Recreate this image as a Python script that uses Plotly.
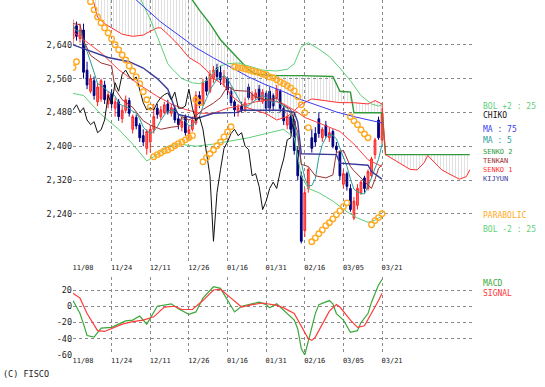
import plotly.graph_objects as go
import pandas as pd

# ---------------- data ----------------
date_labels = ["11/08", "11/24", "12/11", "12/26", "01/16", "01/31", "02/16", "03/05", "03/21"]
date_pos = [0, 11, 22, 33, 44, 55, 66, 77, 88]

opens = [2655, 2685, 2655, 2675, 2580, 2530, 2555, 2505, 2512, 2545, 2500, 2525, 2490, 2505, 2465, 2485, 2508, 2440, 2468, 2450,
         2425, 2395, 2410, 2440, 2490, 2470, 2480, 2500, 2478, 2490, 2465, 2445, 2470, 2430, 2440, 2455, 2520, 2500, 2555, 2530,
         2560, 2585, 2575, 2550, 2560, 2530, 2505, 2480, 2495, 2485, 2540, 2510, 2515, 2535, 2505, 2525, 2530, 2520, 2515, 2530,
         2490, 2450, 2470, 2460, 2390, 2330, 2200, 2300, 2420, 2430, 2465, 2420, 2450, 2420, 2435, 2400, 2385, 2310, 2335, 2300,
         2230, 2260, 2290, 2325, 2300, 2330, 2380, 2462, 2415]
highs = [2700, 2695, 2690, 2690, 2600, 2570, 2565, 2550, 2560, 2555, 2530, 2535, 2515, 2512, 2495, 2520, 2515, 2475, 2475, 2455,
         2440, 2440, 2450, 2500, 2500, 2495, 2505, 2510, 2500, 2495, 2475, 2468, 2475, 2450, 2470, 2530, 2530, 2560, 2565, 2580,
         2590, 2595, 2590, 2580, 2565, 2540, 2510, 2500, 2505, 2515, 2548, 2530, 2535, 2545, 2535, 2530, 2540, 2525, 2545, 2535,
         2495, 2480, 2475, 2465, 2400, 2340, 2300, 2350, 2440, 2445, 2480, 2445, 2460, 2445, 2440, 2410, 2390, 2345, 2340, 2310,
         2280, 2310, 2320, 2330, 2345, 2375, 2420, 2470, 2490]
lows = [2640, 2650, 2645, 2560, 2535, 2525, 2510, 2495, 2505, 2500, 2490, 2490, 2470, 2460, 2455, 2478, 2470, 2430, 2440, 2410,
        2400, 2380, 2385, 2430, 2465, 2462, 2475, 2475, 2470, 2455, 2440, 2435, 2425, 2415, 2435, 2450, 2490, 2495, 2520, 2525,
        2550, 2555, 2545, 2540, 2520, 2495, 2470, 2470, 2480, 2480, 2510, 2505, 2510, 2505, 2500, 2480, 2480, 2485, 2510, 2480,
        2450, 2440, 2430, 2380, 2320, 2170, 2185, 2290, 2385, 2400, 2420, 2410, 2420, 2410, 2395, 2385, 2320, 2300, 2295, 2245,
        2225, 2250, 2285, 2290, 2295, 2325, 2370, 2415, 2405]
closes = [2685, 2660, 2675, 2575, 2545, 2560, 2520, 2540, 2555, 2510, 2522, 2500, 2505, 2470, 2485, 2510, 2478, 2470, 2448, 2420,
          2410, 2435, 2440, 2470, 2475, 2486, 2498, 2481, 2491, 2462, 2451, 2458, 2432, 2439, 2462, 2520, 2500, 2550, 2530, 2570,
          2580, 2565, 2557, 2564, 2533, 2503, 2486, 2491, 2486, 2503, 2515, 2522, 2526, 2510, 2528, 2490, 2490, 2495, 2535, 2490,
          2460, 2470, 2440, 2390, 2330, 2175, 2290, 2345, 2395, 2410, 2430, 2440, 2425, 2432, 2400, 2392, 2330, 2335, 2305, 2250,
          2270, 2300, 2315, 2300, 2340, 2370, 2415, 2420, 2478]

chiko_shift = 25

ma75_idx = [14, 18, 25, 30, 35, 40, 45, 50, 55, 60, 65, 70, 75, 80, 85, 88]
ma75_val = [2770, 2746, 2694, 2664, 2633, 2609, 2586, 2564, 2545, 2529, 2510, 2496, 2481, 2470, 2460, 2455]

ma25_idx = [0, 4, 8, 13, 19, 24, 28, 32, 36, 40, 44, 48, 52, 56, 60, 64, 66, 70, 76, 80, 84, 88]
ma25_val = [2671, 2645, 2621, 2581, 2545, 2518, 2500, 2487, 2478, 2478, 2490, 2496, 2505, 2510, 2500, 2480, 2468, 2455, 2435, 2405, 2368, 2352]

bolu_idx = [18, 20, 22, 24, 26, 27, 28, 31, 34, 36, 38, 40, 42, 44, 47, 50, 54, 58, 61, 63, 65, 67, 70, 73, 76, 79, 82, 85, 87, 88]
bolu_val = [2770, 2735, 2700, 2660, 2615, 2595, 2585, 2560, 2550, 2548, 2555, 2575, 2590, 2595, 2597, 2590, 2580, 2578, 2582, 2595,
            2635, 2645, 2630, 2612, 2585, 2555, 2520, 2500, 2495, 2498]

boll_idx = [0, 3, 8, 13, 17, 21, 23, 27, 30, 35, 40, 45, 50, 55, 60, 63, 65, 67, 70, 74, 78, 81, 84, 86, 88]
boll_val = [2525, 2520, 2475, 2440, 2405, 2365, 2375, 2400, 2405, 2400, 2405, 2412, 2420, 2430, 2440, 2420, 2330, 2300, 2290, 2270,
            2245, 2230, 2220, 2225, 2235]

tenkan_idx = [0, 2, 3, 5, 8, 11, 12, 14, 17, 18, 20, 22, 25, 28, 30, 31, 33, 35, 37, 39, 40, 42, 44, 46, 50, 52, 55, 58, 60, 62,
              63, 64, 65, 67, 69, 72, 74, 75, 77, 79, 80, 83, 85, 86, 87, 88]
tenkan_val = [2690, 2688, 2650, 2615, 2597, 2590, 2535, 2510, 2492, 2482, 2460, 2450, 2440, 2445, 2447, 2470, 2462, 2472, 2487, 2497,
              2502, 2515, 2542, 2532, 2530, 2517, 2509, 2514, 2497, 2487, 2462, 2432, 2357, 2352, 2330, 2325, 2332, 2385, 2390, 2352,
              2342, 2318, 2300, 2322, 2347, 2357]

kijun_idx = [0, 5, 10, 16, 20, 24, 27, 29, 30, 35, 40, 47, 48, 60, 63, 64, 65, 75, 76, 84, 85, 88]
kijun_val = [2640, 2625, 2610, 2600, 2585, 2560, 2535, 2490, 2475, 2465, 2478, 2480, 2485, 2485, 2480, 2457, 2382, 2380, 2360, 2355, 2340, 2322]

senko1_idx = [5, 6, 7, 9, 11, 14, 17, 20, 22, 24, 25, 27, 30, 33, 36, 38, 40, 43, 45, 48, 50, 53, 55, 58, 61, 63, 65, 68, 72, 76,
              80, 84, 86, 88, 89, 90, 92, 94, 96, 98, 100, 101, 102, 103, 105, 107, 109, 110, 112, 113]
senko1_val = [2770, 2740, 2705, 2690, 2680, 2665, 2660, 2663, 2672, 2680, 2680, 2665, 2640, 2610, 2595, 2580, 2560, 2545, 2520, 2500,
              2490, 2483, 2477, 2462, 2470, 2484, 2499, 2512, 2508, 2503, 2503, 2500, 2508, 2500, 2380, 2375, 2365, 2355, 2345, 2344,
              2361, 2378, 2370, 2360, 2344, 2335, 2325, 2322, 2328, 2344]

senko2_idx = [5, 30, 33, 34, 36, 39, 42, 46, 50, 52, 56, 65, 74, 76, 79, 80, 88, 89, 113]
senko2_val = [2800, 2800, 2760, 2746, 2722, 2690, 2652, 2616, 2581, 2571, 2567, 2567, 2565, 2530, 2528, 2479, 2479, 2380, 2380]

sar_idx = [0, 1, 3, 4, 5, 6, 7, 8, 9, 10, 11, 12, 13, 14, 15, 16, 17, 18, 19, 20, 21, 22,
           23, 24, 25, 26, 27, 28, 29, 30, 31, 32, 33, 34, 35, 36,
           37, 38, 39, 40, 41, 42, 43, 44, 45,
           46, 47, 48, 49, 50, 51, 52, 53, 54, 55, 56, 57, 58, 59, 60, 61, 62, 63, 64, 65, 66, 67,
           68, 69, 70, 71, 72, 73, 74, 75, 76, 77, 78,
           79, 80, 81, 82, 83, 84, 85, 86, 87, 88]
sar_val = [2586, 2600, 2770, 2755, 2742, 2723, 2706, 2692, 2680, 2668, 2654, 2640, 2628, 2616, 2604, 2590, 2578, 2564, 2548, 2529, 2510, 2493,
           2375, 2380, 2384, 2389, 2391, 2396, 2401, 2406, 2410, 2415, 2420, 2425, 2510, 2503,
           2363, 2373, 2382, 2391, 2401, 2410, 2422, 2434, 2446,
           2588, 2586, 2585, 2583, 2581, 2578, 2576, 2574, 2571, 2569, 2564, 2562, 2557, 2552, 2548, 2543, 2538, 2531, 2517, 2498, 2479, 2444,
           2174, 2183, 2193, 2202, 2212, 2219, 2228, 2238, 2247, 2257, 2266,
           2470, 2460, 2451, 2439, 2429, 2420, 2214, 2224, 2231, 2240]

macd_idx = [0, 2, 3, 4, 6, 7, 8, 11, 13, 15, 17, 19, 21, 24, 28, 30, 33, 35, 37, 40, 42, 45, 46, 48, 51, 53, 55, 56, 58, 61,
            63, 64, 65, 66, 67, 68, 69, 70, 73, 74, 75, 77, 79, 81, 82, 84, 85, 87, 88]
macd_val = [7, -9, -22, -36, -38, -33, -27, -26, -22, -18, -17, -12, -22, 0, 3, -3, -10, -7, 10, 24, 22, 0, -7, 0, 3, 5, 2, -2, 3, -9,
            -17, -28, -52, -60, -42, -24, -9, 2, 7, 3, -9, -17, -32, -30, -20, -9, 5, 26, 33]

sig_idx = [0, 2, 4, 6, 7, 9, 11, 14, 17, 20, 23, 26, 29, 31, 34, 37, 40, 42, 45, 48, 51, 54, 58, 60, 63, 65, 66, 67, 68, 69,
           70, 72, 73, 75, 76, 79, 81, 83, 85, 87, 88]
sig_val = [16, 10, -9, -23, -30, -31, -27, -22, -19, -17, -13, -1, 0, -4, -4, 7, 20, 21, 10, -1, 2, 4, 1, -2, -9, -25, -33, -40, -42, -38,
           -30, -15, -6, 2, -1, -17, -26, -24, -9, 7, 16]

# ---------------- derived ----------------
days = list(range(len(closes)))
ma5 = pd.Series(closes).rolling(5, min_periods=1).mean().tolist()
chiko_x = [d - chiko_shift for d in days[chiko_shift:]]
chiko_y = closes[chiko_shift:]

C_BOL = "#5fcf7a"
C_MA75 = "#3a3af0"
C_MA5 = "#2a9c9c"
C_MA25 = "#ff4040"
C_SENKO2 = "#2f9a3a"
C_SENKO1 = "#ff3030"
C_TENKAN = "#993030"
C_KIJUN = "#3a3a9a"
C_SAR = "#ffaa22"
C_MACD = "#3aa83a"
C_SIG = "#ff3a3a"

fig = go.Figure()

def line(x, y, color, width=1, **kw):
    fig.add_trace(go.Scatter(x=x, y=y, mode="lines", line=dict(color=color, width=width),
                             hoverinfo="skip", showlegend=False, **kw))

# cloud
line(senko2_idx, senko2_val, C_SENKO2, 1.4)
fig.add_trace(go.Scatter(x=senko1_idx, y=senko1_val, mode="lines", line=dict(color=C_SENKO1, width=1),
                         fill="tonexty", fillcolor="rgba(255,255,255,0)",
                         fillpattern=dict(shape="|", size=3, solidity=0.25, fgcolor="#b0b0b0"),
                         hoverinfo="skip", showlegend=False))

line(bolu_idx, bolu_val, C_BOL, 1)
line(boll_idx, boll_val, C_BOL, 1)
line(ma75_idx, ma75_val, C_MA75, 1)
line(ma25_idx, ma25_val, C_MA25, 1)

fig.add_trace(go.Candlestick(x=days, open=opens, high=highs, low=lows, close=closes,
                             increasing=dict(line=dict(color="#ff2020", width=1), fillcolor="#ff7070"),
                             decreasing=dict(line=dict(color="#000080", width=1), fillcolor="#000080"),
                             whiskerwidth=0, showlegend=False, hoverinfo="skip"))

line(days, ma5, C_MA5, 1)
line(tenkan_idx, tenkan_val, C_TENKAN, 1)
line(kijun_idx, kijun_val, C_KIJUN, 1.4)
line(chiko_x, chiko_y, "#111111", 1)

fig.add_trace(go.Scatter(x=sar_idx, y=sar_val, mode="markers",
                         marker=dict(symbol="circle-open", size=5.5, color=C_SAR, line=dict(width=1.4, color=C_SAR)),
                         hoverinfo="skip", showlegend=False))

# MACD panel
line(macd_idx, macd_val, C_MACD, 1.2, xaxis="x2", yaxis="y2")
line(sig_idx, sig_val, C_SIG, 1.2, xaxis="x2", yaxis="y2")

grid = dict(showgrid=True, gridcolor="#8a8a8a", griddash="dot", gridwidth=1, zeroline=False, showline=False, ticks="")

fig.update_layout(
    width=545, height=387,
    margin=dict(l=73, r=72, t=0, b=32),
    paper_bgcolor="white", plot_bgcolor="white",
    showlegend=False,
    font=dict(family="DejaVu Sans Mono", color="#222222"),
    xaxis=dict(domain=[0, 1], range=[0, 113.9], tickvals=date_pos, ticktext=date_labels, anchor="y",
               tickfont=dict(size=7), ticklabelshift=10, rangeslider=dict(visible=False), **grid),
    xaxis2=dict(domain=[0, 1], range=[0, 113.9], tickvals=date_pos, ticktext=date_labels, anchor="y2",
                matches="x", tickfont=dict(size=7), ticklabelshift=10, **grid),
    yaxis=dict(domain=[0.262, 1], range=[2126, 2746], tickvals=[2240, 2320, 2400, 2480, 2560, 2640],
               tickformat=",d", tickfont=dict(size=8.5), **grid),
    yaxis2=dict(domain=[0, 0.2197], range=[-60, 36], tickvals=[20, 0, -20, -40, -60],
                ticktext=["20", "0", "-20", "-40", "-60"], tickfont=dict(size=8.5), **grid),
)

labels = [
    ("BOL +2 : 25", 106, C_BOL, 8), ("CHIKO", 115, "#111111", 8), ("MA : 75", 129, C_MA75, 8), ("MA : 5", 140, C_MA5, 8),
    ("SENKO 2", 152, C_SENKO2, 7), ("TENKAN", 161, C_TENKAN, 7), ("SENKO 1", 170, C_SENKO1, 7), ("KIJYUN", 179, C_KIJUN, 7),
    ("PARABOLIC", 215, C_SAR, 8), ("BOL -2 : 25", 229, C_BOL, 8), ("MACD", 283, C_MACD, 8), ("SIGNAL", 293, C_SIG, 8),
]
for text, ypx, col, fs in labels:
    fig.add_annotation(text=text, xref="paper", yref="paper", x=(482 - 73) / 400, y=(355 - ypx) / 355,
                       xanchor="left", yanchor="middle", showarrow=False, borderpad=0,
                       font=dict(family="DejaVu Sans Mono", size=fs, color=col))
fig.add_annotation(text="(C) FISCO", xref="paper", yref="paper", x=(2 - 73) / 400, y=(355 - 374) / 355,
                   xanchor="left", yanchor="middle", showarrow=False, borderpad=0,
                   font=dict(family="DejaVu Sans Mono", size=8.5, color="#222222"))

fig.write_html("out.html", config={"displayModeBar": False},
               post_script="document.body.style.margin='0px';document.body.style.overflow='hidden';")
